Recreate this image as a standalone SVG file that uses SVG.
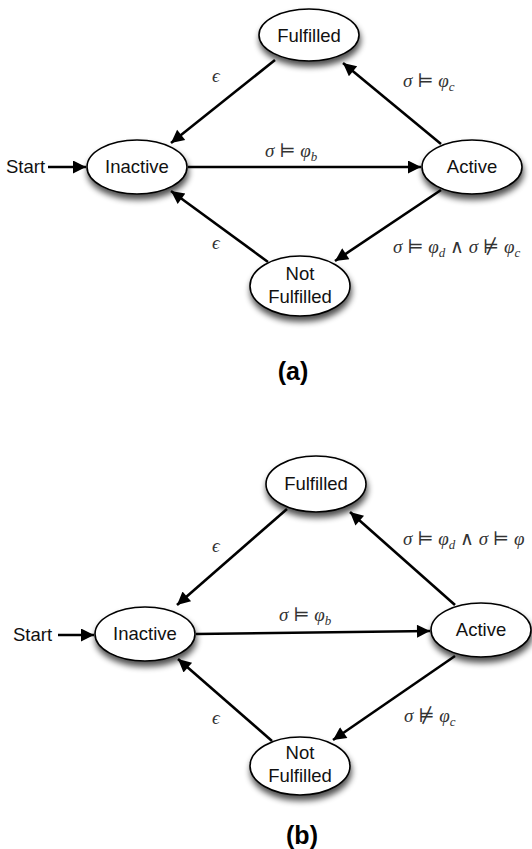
<svg xmlns="http://www.w3.org/2000/svg" width="532" height="849" viewBox="0 0 532 849">
<style>
.node{fill:#fff;stroke:#000;stroke-width:1.6;filter:url(#sh)}
.nt{font-family:"Liberation Sans",Arial,sans-serif;font-size:18.5px;fill:#111;text-anchor:middle}
.st{font-family:"Liberation Sans",Arial,sans-serif;font-size:18.5px;fill:#111}
.edge{stroke:#000;stroke-width:2.6;fill:none;marker-end:url(#ah)}
.m{font-family:"Liberation Serif","DejaVu Serif",serif;font-size:19px;fill:#333}
.i{font-style:italic}
.s{font-style:italic;font-size:13px}
.cap{font-family:"Liberation Sans",Arial,sans-serif;font-size:25px;font-weight:bold;fill:#000;text-anchor:middle}
</style>
<defs>
<filter id="sh" x="-30%" y="-30%" width="160%" height="180%">
<feGaussianBlur in="SourceAlpha" stdDeviation="3"/>
<feOffset dx="1" dy="5" result="b"/>
<feComponentTransfer><feFuncA type="linear" slope="0.7"/></feComponentTransfer>
<feMerge><feMergeNode/><feMergeNode in="SourceGraphic"/></feMerge>
</filter>
<marker id="ah" viewBox="0 0 10 10" refX="10" refY="5" markerWidth="6" markerHeight="5" markerUnits="strokeWidth" orient="auto">
<path d="M0,0 L10,5 L0,10 z" fill="#000"/>
</marker>
</defs>

<!-- Diagram (a) -->
<g id="connectors-a">
<path class="edge" d="M48,167 L86,167"/>
<path class="edge" d="M188,167 L421,167"/>
<path class="edge" d="M275,60 L171,143"/>
<path class="edge" d="M441,144 L343,63"/>
<path class="edge" d="M441,190 L335,261"/>
<path class="edge" d="M268,262 L171,191"/>
</g>
<g id="start-a"><text class="st" x="6" y="173">Start</text></g>
<g id="fulfilled-a"><ellipse class="node" cx="309" cy="35" rx="50" ry="26"/><text class="nt" x="309" y="42">Fulfilled</text></g>
<g id="inactive-a"><ellipse class="node" cx="137" cy="167" rx="50" ry="27"/><text class="nt" x="137" y="173">Inactive</text></g>
<g id="active-a"><ellipse class="node" cx="472" cy="167" rx="50" ry="27"/><text class="nt" x="472" y="173">Active</text></g>
<g id="notfulfilled-a"><ellipse class="node" cx="300" cy="286" rx="50" ry="30"/><text class="nt" x="300" y="280">Not</text><text class="nt" x="300" y="303">Fulfilled</text></g>
<g id="labels-a">
<text class="m" x="265" y="157"><tspan class="i">σ</tspan> ⊨ <tspan class="i">φ</tspan><tspan class="s" dy="4">b</tspan></text>
<text class="m i" x="212" y="82">ϵ</text>
<text class="m" x="403" y="87"><tspan class="i">σ</tspan> ⊨ <tspan class="i">φ</tspan><tspan class="s" dy="4">c</tspan></text>
<text class="m" x="393" y="253"><tspan class="i">σ</tspan> ⊨ <tspan class="i">φ</tspan><tspan class="s" dy="4">d</tspan><tspan dy="-4"> ∧ </tspan><tspan class="i">σ</tspan> ⊭ <tspan class="i">φ</tspan><tspan class="s" dy="4">c</tspan></text>
<text class="m i" x="212" y="249">ϵ</text>
</g>
<text class="cap" x="293" y="380">(a)</text>

<!-- Diagram (b) -->
<g id="connectors-b">
<path class="edge" d="M58,635 L94,635"/>
<path class="edge" d="M196,634 L430,631"/>
<path class="edge" d="M287,509 L177,605"/>
<path class="edge" d="M455,605 L350,512"/>
<path class="edge" d="M455,656 L333,740"/>
<path class="edge" d="M272,741 L178,659"/>
</g>
<g id="start-b"><text class="st" x="13" y="641">Start</text></g>
<g id="fulfilled-b"><ellipse class="node" cx="316" cy="484" rx="50" ry="28"/><text class="nt" x="316" y="490">Fulfilled</text></g>
<g id="inactive-b"><ellipse class="node" cx="145" cy="634" rx="50" ry="27"/><text class="nt" x="145" y="640">Inactive</text></g>
<g id="active-b"><ellipse class="node" cx="481" cy="630" rx="50" ry="27"/><text class="nt" x="481" y="636">Active</text></g>
<g id="notfulfilled-b"><ellipse class="node" cx="300" cy="766" rx="50" ry="29"/><text class="nt" x="300" y="759">Not</text><text class="nt" x="300" y="782">Fulfilled</text></g>
<g id="labels-b">
<text class="m" x="279" y="621"><tspan class="i">σ</tspan> ⊨ <tspan class="i">φ</tspan><tspan class="s" dy="4">b</tspan></text>
<text class="m i" x="212" y="552">ϵ</text>
<text class="m" x="403" y="545"><tspan class="i">σ</tspan> ⊨ <tspan class="i">φ</tspan><tspan class="s" dy="4">d</tspan><tspan dy="-4"> ∧ </tspan><tspan class="i">σ</tspan> ⊨ <tspan class="i">φ</tspan></text>
<text class="m" x="404" y="722"><tspan class="i">σ</tspan> ⊭ <tspan class="i">φ</tspan><tspan class="s" dy="4">c</tspan></text>
<text class="m i" x="212" y="724">ϵ</text>
</g>
<text class="cap" x="302" y="844">(b)</text>
</svg>
